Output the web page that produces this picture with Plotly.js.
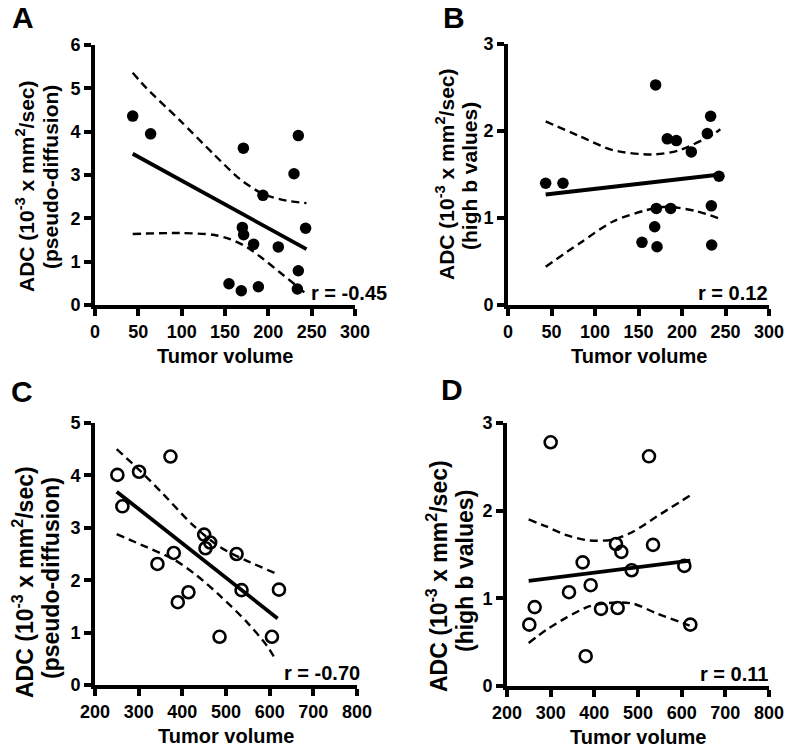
<!DOCTYPE html>
<html>
<head>
<meta charset="utf-8">
<script src="https://cdn.plot.ly/plotly-3.0.1.min.js"></script>
<style>
  html, body { margin:0; padding:0; background:#fff; }
  #chart { width:787px; height:749px; }
</style>
</head>
<body>
<div id="chart"></div>
<script>
(function(){
  'use strict';

  // ---- data ----
  // A: pseudo-diffusion ADC vs tumor volume (filled)
  const aX = [43.5, 64.2, 171.2, 234.6, 229.6, 193.8, 170, 171.5, 183, 211.5, 243, 234.6, 154.6, 168.8, 188.5, 233.5];
  const aY = [4.36, 3.95, 3.62, 3.91, 3.03, 2.53, 1.79, 1.62, 1.40, 1.34, 1.77, 0.79, 0.49, 0.33, 0.42, 0.37];
  const aFitX = [43.5, 244];
  const aFitY = [3.49, 1.29];
  const aUpX = [43.5, 59.6, 98, 136.5, 167, 194, 221, 244];
  const aUpY = [5.36, 5.0, 4.26, 3.49, 2.91, 2.56, 2.41, 2.35];
  const aLoX = [43.5, 98, 136.5, 155.8, 175, 194.2, 213.5, 232.7, 244];
  const aLoY = [1.64, 1.66, 1.62, 1.52, 1.34, 1.06, 0.75, 0.44, 0.25];

  // B: high-b ADC vs tumor volume (filled)
  const bX = [43.3, 63.2, 169.7, 183.1, 193.5, 210.7, 229.1, 232.9, 242.5, 170.5, 187, 233.7, 168.6, 154, 171.3, 234.1];
  const bY = [1.40, 1.40, 2.53, 1.91, 1.89, 1.76, 1.97, 2.17, 1.48, 1.11, 1.11, 1.14, 0.90, 0.72, 0.67, 0.69];
  const bFitX = [43.3, 244];
  const bFitY = [1.27, 1.50];
  const bUpX = [43.3, 82.4, 120.7, 166.7, 197.3, 235.6, 244];
  const bUpY = [2.11, 1.94, 1.78, 1.73, 1.78, 1.96, 2.02];
  const bLoX = [43.3, 82.4, 120.7, 159, 182, 216, 244];
  const bLoY = [0.44, 0.71, 0.96, 1.09, 1.13, 1.08, 0.99];

  // C: pseudo-diffusion ADC vs tumor volume (open)
  const cX = [251.2, 262.7, 300.9, 372.8, 343, 380.4, 389.6, 414, 450, 463.8, 453, 524.2, 535.6, 621.3, 485.2, 605.2];
  const cY = [4.01, 3.41, 4.07, 4.36, 2.31, 2.52, 1.58, 1.77, 2.87, 2.72, 2.61, 2.50, 1.81, 1.82, 0.92, 0.92];
  const cFitX = [249.7, 618.2];
  const cFitY = [3.69, 1.27];
  const cUpX = [249.7, 303, 356.7, 425.5, 486.7, 547.9, 616.7];
  const cUpY = [4.50, 4.09, 3.64, 3.04, 2.63, 2.37, 2.12];
  const cLoX = [249.7, 318.5, 379.7, 433, 486.7, 547.9, 593.7, 614];
  const cLoY = [2.88, 2.63, 2.40, 2.09, 1.70, 1.20, 0.75, 0.48];

  // D: high-b ADC vs tumor volume (open)
  const dX = [300, 525.2, 251.1, 263.4, 342, 373.3, 391.6, 415.3, 453.4, 449.6, 461.8, 485.5, 534.4, 606.1, 619.8, 380.2];
  const dY = [2.78, 2.62, 0.70, 0.90, 1.07, 1.41, 1.15, 0.88, 0.89, 1.62, 1.53, 1.32, 1.61, 1.37, 0.70, 0.34];
  const dFitX = [249.6, 619.8];
  const dFitY = [1.20, 1.43];
  const dUpX = [249.6, 290, 335.9, 389.3, 442.7, 488.5, 542, 618.3];
  const dUpY = [1.90, 1.82, 1.72, 1.66, 1.67, 1.76, 1.93, 2.17];
  const dLoX = [249.6, 290, 335.9, 389.3, 442.7, 488.5, 542, 618.3];
  const dLoY = [0.49, 0.64, 0.78, 0.91, 0.95, 0.94, 0.83, 0.69];

  // tick values
  const xTicksTop = [0, 50, 100, 150, 200, 250, 300];
  const xTicksBottom = [200, 300, 400, 500, 600, 700, 800];
  const yTicksA = [0, 1, 2, 3, 4, 5, 6];
  const yTicksC = [0, 1, 2, 3, 4, 5];
  const yTicksBD = [0, 1, 2, 3];

  const rLabels = ['r = -0.45', 'r = 0.12', 'r = -0.70', 'r = 0.11'];
  const panelLetters = ['A', 'B', 'C', 'D'];
  const yTitleLine1 = 'ADC (10<sup>-3</sup> x mm<sup>2</sup>/sec)';
  const yTitleLine2 = ['(pseudo-diffusion)', '(high b values)', '(pseudo-diffusion)', '(high b values)'];
  const xTitle = 'Tumor volume';

  // ---- layout helpers ----
  const W = 787, H = 749;
  const px = x => x / W;
  const py = y => 1 - y / H;
  const FONT = 'Arial, "Liberation Sans", sans-serif';

  function lineTrace(x, y, xa, ya, dashed){
    return {
      x, y, xaxis:xa, yaxis:ya, type:'scatter', mode:'lines',
      line:{ color:'#000', width: dashed ? 2.4 : 3.8, dash: dashed ? '8px,5px' : 'solid', shape:'spline', smoothing:0.8 },
      hoverinfo:'skip', showlegend:false
    };
  }
  function dotTrace(x, y, xa, ya, open){
    return {
      x, y, xaxis:xa, yaxis:ya, type:'scatter', mode:'markers', cliponaxis:false,
      marker: open
        ? { symbol:'circle-open', size:12, color:'#000', line:{ width:2.6, color:'#000' } }
        : { symbol:'circle', size:11.5, color:'#000' },
      showlegend:false
    };
  }

  const panels = [
    { xa:'x',  ya:'y',  X:aX, Y:aY, fx:aFitX, fy:aFitY, ux:aUpX, uy:aUpY, lx:aLoX, ly:aLoY, open:false },
    { xa:'x2', ya:'y2', X:bX, Y:bY, fx:bFitX, fy:bFitY, ux:bUpX, uy:bUpY, lx:bLoX, ly:bLoY, open:false },
    { xa:'x3', ya:'y3', X:cX, Y:cY, fx:cFitX, fy:cFitY, ux:cUpX, uy:cUpY, lx:cLoX, ly:cLoY, open:true },
    { xa:'x4', ya:'y4', X:dX, Y:dY, fx:dFitX, fy:dFitY, ux:dUpX, uy:dUpY, lx:dLoX, ly:dLoY, open:true }
  ];

  const traces = [];
  panels.forEach(p=>{
    traces.push(lineTrace(p.ux, p.uy, p.xa, p.ya, true));
    traces.push(lineTrace(p.lx, p.ly, p.xa, p.ya, true));
    traces.push(lineTrace(p.fx, p.fy, p.xa, p.ya, false));
    traces.push(dotTrace(p.X, p.Y, p.xa, p.ya, p.open));
  });

  function axis(domain, range, ticks, anchor){
    return {
      domain, range, anchor,
      tickmode:'array', tickvals:ticks, ticktext:ticks.map(v=>'<b>'+v+'</b>'),
      showline:true, linewidth:4, linecolor:'#000',
      ticks:'outside', ticklen:7, tickwidth:4, tickcolor:'#000',
      showgrid:false, zeroline:false, fixedrange:true,
      tickfont:{ family:FONT, size:18, color:'#000', weight:700 }
    };
  }

  // plot boxes in pixels: [left, right, top, bottom]
  const boxes = [
    [95, 355, 45, 305],
    [508, 769, 44, 305],
    [95, 357, 423, 685],
    [507, 769, 423, 686]
  ];
  const xr = [[0,300],[0,300],[200,800],[200,800]];
  const yr = [[0,6],[0,3],[0,5],[0,3]];
  const xt = [xTicksTop, xTicksTop, xTicksBottom, xTicksBottom];
  const yt = [yTicksA, yTicksBD, yTicksC, yTicksBD];

  const layout = {
    width:W, height:H,
    margin:{ l:0, r:0, t:0, b:0 },
    paper_bgcolor:'#fff', plot_bgcolor:'#fff',
    showlegend:false,
    font:{ family:FONT, color:'#000' },
    annotations:[]
  };

  // y title lines: [x, y] centers in px, one per line, plus size
  const yLine1Pos = [[25, 186], [445, 174], [23, 582], [437, 576]];
  const yLine2Pos = [[51, 177], [470, 176], [51, 578], [465, 571]];
  const yTitleSize = [21, 21, 23, 23];
  const letterPos = [[23, 17], [454, 17], [22, 391], [452, 389]];

  function note(text, x, y, size, extra){
    return Object.assign({
      text:'<b>'+text+'</b>', xref:'paper', yref:'paper',
      x:px(x), y:py(y), xanchor:'center', yanchor:'middle',
      showarrow:false, font:{ family:FONT, size, color:'#000' }
    }, extra || {});
  }

  boxes.forEach((b, i)=>{
    const n = i === 0 ? '' : String(i+1);
    layout['xaxis'+n] = axis([px(b[0]), px(b[1])], xr[i], xt[i], 'y'+n);
    layout['yaxis'+n] = axis([py(b[3]), py(b[2])], yr[i], yt[i], 'x'+n);

    layout.annotations.push(note(panelLetters[i], letterPos[i][0], letterPos[i][1], 30));
    layout.annotations.push(note(rLabels[i], i === 0 ? 389 : (i === 2 ? 362 : b[1]+1), b[3]-12, 20, { xanchor:'right' }));
    layout.annotations.push(note(xTitle, (b[0]+b[1])/2, b[3]+51, 20));
    layout.annotations.push(note(yTitleLine1, yLine1Pos[i][0], yLine1Pos[i][1], yTitleSize[i], { textangle:-90 }));
    layout.annotations.push(note(yTitleLine2[i], yLine2Pos[i][0], yLine2Pos[i][1], yTitleSize[i], { textangle:-90 }));
  });

  Plotly.newPlot('chart', traces, layout, { displayModeBar:false, staticPlot:true });
})();
</script>
</body>
</html>
